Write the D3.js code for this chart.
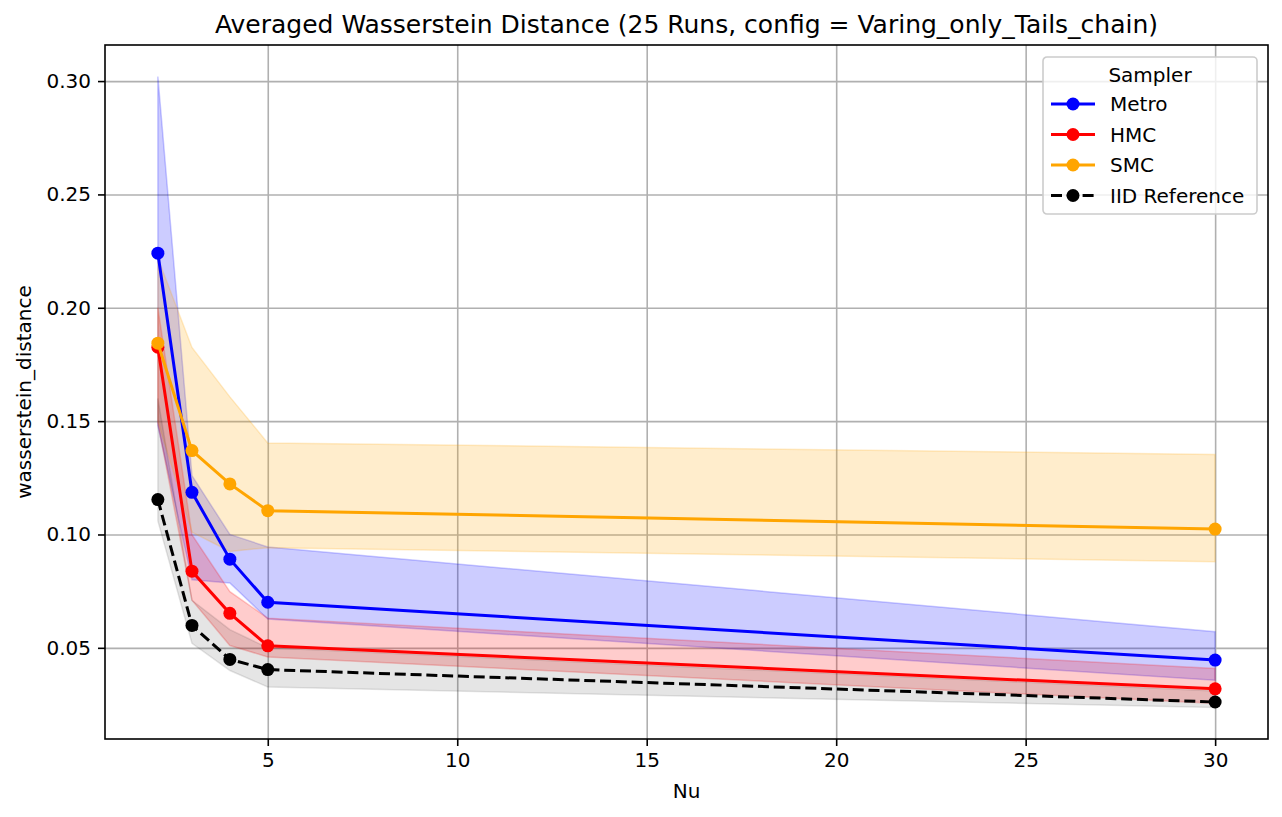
<!DOCTYPE html>
<html>
<head>
<meta charset="utf-8">
<script src="https://cdn.jsdelivr.net/npm/d3@7"></script>
<style>
  body { margin: 0; background: #fff; }
  text { font-family: "DejaVu Sans", sans-serif; fill: #000; }
</style>
</head>
<body>
<svg id="chart" width="1282" height="817"></svg>
<script>
// values
const nu = [2.1, 3, 4, 5, 30];

const metro   = [0.2241, 0.1186, 0.0891, 0.0701, 0.0446];
const metroLo = [0.148, 0.080, 0.0786, 0.0627, 0.0357];
const metroHi = [0.302, 0.126, 0.100, 0.0945, 0.0571];

const hmc   = [0.1826, 0.0838, 0.0652, 0.0509, 0.0319];
const hmcLo = [0.149, 0.071, 0.051, 0.046, 0.0255];
const hmcHi = [0.200, 0.0999, 0.0748, 0.0631, 0.0409];

const smc   = [0.1844, 0.137, 0.1223, 0.1105, 0.1024];
const smcLo = [0.150, 0.101, 0.0925, 0.0942, 0.088];
const smcHi = [0.222, 0.1825, 0.1607, 0.1404, 0.1353];

const iid   = [0.1154, 0.0599, 0.0449, 0.0404, 0.0261];
const iidLo = [0.106, 0.052, 0.040, 0.0327, 0.0237];
const iidHi = [0.160, 0.071, 0.058, 0.050, 0.031];

const xTicks = [5, 10, 15, 20, 25, 30];
const yTicks = [0.05, 0.10, 0.15, 0.20, 0.25, 0.30];

const seriesNames = ["Metro", "HMC", "SMC", "IID Reference"];
const seriesColors = ["blue", "red", "orange", "black"];
const seriesMeans = [metro, hmc, smc, iid];
const seriesLo = [metroLo, hmcLo, smcLo, iidLo];
const seriesHi = [metroHi, hmcHi, smcHi, iidHi];
const bandAlpha = [0.2, 0.2, 0.2, 0.1];

const margin = { top: 45, right: 14, bottom: 78, left: 105 };
const width = 1282, height = 817;
const innerWidth = width - margin.left - margin.right;
const innerHeight = height - margin.top - margin.bottom;

const svg = d3.select("#chart");
const g = svg.append("g")
    .attr("transform", "translate(" + margin.left + "," + margin.top + ")");

// matplotlib style 5% padding around data
const xMin = d3.min(nu), xMax = d3.max(nu);
const xPad = (xMax - xMin) * 0.05;
const x = d3.scaleLinear().domain([xMin - xPad, xMax + xPad]).range([0, innerWidth]);

const yMin = d3.min(seriesLo.flat()), yMax = d3.max(seriesHi.flat());
const yPad = (yMax - yMin) * 0.05;
const y = d3.scaleLinear().domain([yMin - yPad, yMax + yPad]).range([innerHeight, 0]);

// grid (no labels, just lines)
g.append("g")
    .attr("transform", "translate(0," + innerHeight + ")")
    .call(d3.axisBottom(x).tickValues(xTicks).tickSize(-innerHeight).tickFormat(""))
    .call(s => s.select(".domain").remove())
    .call(s => s.selectAll("text").remove())
    .selectAll(".tick line").attr("stroke", "#b0b0b0").attr("stroke-width", 1.6);
g.append("g")
    .call(d3.axisLeft(y).tickValues(yTicks).tickSize(-innerWidth).tickFormat(""))
    .call(s => s.select(".domain").remove())
    .call(s => s.selectAll("text").remove())
    .selectAll(".tick line").attr("stroke", "#b0b0b0").attr("stroke-width", 1.6);

const plot = g.append("g");
const area = d3.area().x(d => x(d[0])).y0(d => y(d[1])).y1(d => y(d[2]));
const line = d3.line().x(d => x(d[0])).y(d => y(d[1]));

seriesNames.forEach((name, i) => {
    const col = seriesColors[i];
    const band = nu.map((v, j) => [v, seriesLo[i][j], seriesHi[i][j]]);
    plot.append("path")
        .attr("d", area(band))
        .attr("fill", col).attr("fill-opacity", bandAlpha[i])
        .attr("stroke", col).attr("stroke-opacity", bandAlpha[i]).attr("stroke-width", 1.5);
});

seriesNames.forEach((name, i) => {
    const col = seriesColors[i];
    const pts = nu.map((v, j) => [v, seriesMeans[i][j]]);
    plot.append("path")
        .attr("d", line(pts))
        .attr("fill", "none")
        .attr("stroke", col).attr("stroke-width", 3)
        .attr("stroke-dasharray", name === "IID Reference" ? "11,4.8" : null);
    plot.selectAll(null).data(pts).enter().append("circle")
        .attr("cx", d => x(d[0])).attr("cy", d => y(d[1]))
        .attr("r", 6.5).attr("fill", col);
});

// axes
const xAxis = g.append("g")
    .attr("transform", "translate(0," + innerHeight + ")")
    .call(d3.axisBottom(x).tickValues(xTicks).tickSize(7).tickPadding(7).tickSizeOuter(0));
const yAxis = g.append("g")
    .call(d3.axisLeft(y).tickValues(yTicks).tickSize(7).tickPadding(7).tickSizeOuter(0)
        .tickFormat(d3.format(".2f")));
[xAxis, yAxis].forEach(a => {
    a.select(".domain").remove();
    a.selectAll(".tick line").attr("stroke", "#000").attr("stroke-width", 1.6);
    a.selectAll(".tick text").style("font-size", "20px").attr("fill", "#000");
});

// frame
g.append("rect")
    .attr("width", innerWidth).attr("height", innerHeight)
    .attr("fill", "none").attr("stroke", "#000").attr("stroke-width", 1.6);

// titles
svg.append("text")
    .attr("x", margin.left + innerWidth / 2).attr("y", 33)
    .attr("text-anchor", "middle").style("font-size", "25px")
    .text("Averaged Wasserstein Distance (25 Runs, config = Varing_only_Tails_chain)");
svg.append("text")
    .attr("x", margin.left + innerWidth / 2).attr("y", 798)
    .attr("text-anchor", "middle").style("font-size", "20px")
    .text("Nu");
svg.append("text")
    .attr("transform", "translate(31," + (margin.top + innerHeight / 2) + ") rotate(-90)")
    .attr("text-anchor", "middle").style("font-size", "20px")
    .text("wasserstein_distance");

// legend
const lg = svg.append("g").attr("transform", "translate(1043,57)");
lg.append("rect")
    .attr("width", 214).attr("height", 157).attr("rx", 4)
    .attr("fill", "#fff").attr("fill-opacity", 0.8)
    .attr("stroke", "#cccccc").attr("stroke-width", 1.6);
lg.append("text")
    .attr("x", 107).attr("y", 25)
    .attr("text-anchor", "middle").style("font-size", "20px")
    .text("Sampler");
seriesNames.forEach((name, i) => {
    const cy = 47 + i * 30.5;
    const row = lg.append("g").attr("transform", "translate(0," + cy + ")");
    row.append("line")
        .attr("x1", 8).attr("x2", 52)
        .attr("stroke", seriesColors[i]).attr("stroke-width", 3)
        .attr("stroke-dasharray", name === "IID Reference" ? "11,4.8" : null);
    row.append("circle").attr("cx", 30).attr("r", 6.5).attr("fill", seriesColors[i]);
    row.append("text")
        .attr("x", 67).attr("y", 7)
        .style("font-size", "20px")
        .text(name);
});
</script>
</body>
</html>
